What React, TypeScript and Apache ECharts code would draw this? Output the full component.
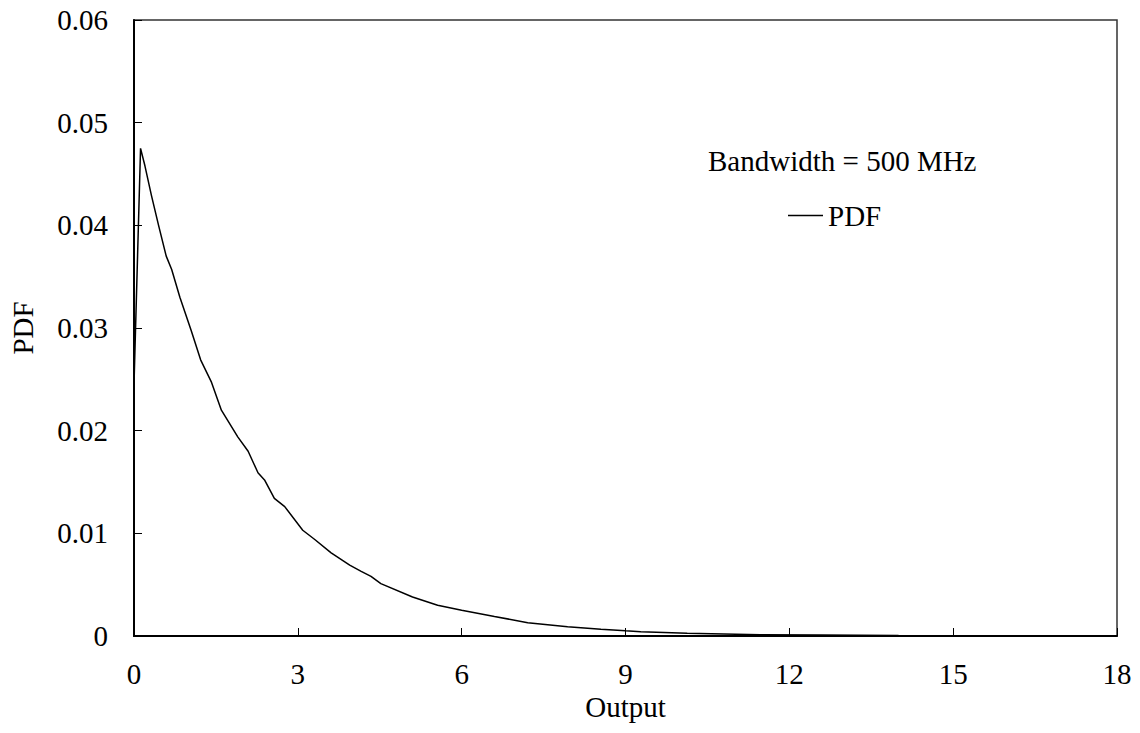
import React, { useEffect, useRef } from "react";
import * as echarts from "echarts";

const outputValues = [0, 0.12, 0.2, 0.32, 0.45, 0.59, 0.69, 0.84, 1.05, 1.22, 1.42, 1.6, 1.9, 2.09, 2.27, 2.39, 2.57, 2.76, 3.09, 3.31, 3.61, 3.95, 4.16, 4.34, 4.52, 5.1, 5.56, 6.0, 6.6, 7.21, 7.94, 8.55, 9.0, 9.28, 10.13, 11.47, 12.57, 14, 16, 18];
const pdfValues = [0.0245, 0.0475, 0.0458, 0.0429, 0.0400, 0.0370, 0.0357, 0.0330, 0.0297, 0.0269, 0.0247, 0.0220, 0.0194, 0.0180, 0.0159, 0.0152, 0.0134, 0.0126, 0.0103, 0.0094, 0.0081, 0.0069, 0.0063, 0.0058, 0.0051, 0.0038, 0.0030, 0.0025, 0.0019, 0.0013, 0.0009, 0.00065, 0.0005, 0.00042, 0.00026, 0.00013, 0.0001, 0.00005, 0.00002, 0.00001];
const xTicks = { min: 0, max: 18, interval: 3 };
const yTicks = { min: 0, max: 0.06, interval: 0.01 };
const seriesName = "PDF";
const annotation = "Bandwidth = 500 MHz";

const FONT = "'Liberation Serif', 'Times New Roman', serif";
const FS = 29;

export default function App() {
  const ref = useRef<HTMLDivElement>(null);
  useEffect(() => {
    if (!ref.current) return;
    const chart = echarts.init(ref.current, undefined, { renderer: "svg" });
    const data = outputValues.map((x, i) => [x, pdfValues[i]]);
    chart.setOption({
      animation: false,
      backgroundColor: "#fff",
      textStyle: { fontFamily: FONT, color: "#000" },
      grid: {
        left: 132,
        right: 23,
        top: 20,
        bottom: 97,
        show: true,
        borderColor: "#333",
        borderWidth: 1.5,
        backgroundColor: "transparent",
      },
      legend: {
        data: [seriesName],
        left: 788,
        top: 201,
        padding: 0,
        icon: "rect",
        itemWidth: 35,
        itemHeight: 1.5,
        itemGap: 0,
        textStyle: { fontFamily: FONT, fontSize: FS, color: "#000" },
      },
      graphic: [
        {
          type: "text",
          left: 708,
          top: 146,
          style: { text: annotation, font: `${FS}px ${FONT}`, fill: "#000" },
        },
      ],
      xAxis: {
        type: "value",
        min: xTicks.min,
        max: xTicks.max,
        interval: xTicks.interval,
        name: "Output",
        nameLocation: "middle",
        nameGap: 52,
        nameTextStyle: { fontFamily: FONT, fontSize: FS, color: "#000" },
        axisLine: { lineStyle: { color: "#000", width: 2 } },
        axisTick: { inside: true, length: 8, lineStyle: { color: "#000", width: 1 } },
        axisLabel: { fontFamily: FONT, fontSize: FS, color: "#000", margin: 23 },
        splitLine: { show: false },
      },
      yAxis: {
        type: "value",
        min: yTicks.min,
        max: yTicks.max,
        interval: yTicks.interval,
        name: "PDF",
        nameLocation: "middle",
        nameGap: 97,
        nameTextStyle: { fontFamily: FONT, fontSize: FS, color: "#000" },
        axisLine: { show: true, lineStyle: { color: "#000", width: 2 } },
        axisTick: { show: true, inside: true, length: 8, lineStyle: { color: "#000", width: 1 } },
        axisLabel: { fontFamily: FONT, fontSize: FS, color: "#000", margin: 26 },
        splitLine: { show: false },
      },
      series: [
        {
          name: seriesName,
          type: "line",
          data,
          showSymbol: false,
          symbol: "none",
          lineStyle: { color: "#000", width: 1.5 },
          itemStyle: { color: "#000" },
        },
      ],
    });
    return () => chart.dispose();
  }, []);
  return <div ref={ref} style={{ width: 1140, height: 733, position: "absolute", left: 0, top: 0 }} />;
}
